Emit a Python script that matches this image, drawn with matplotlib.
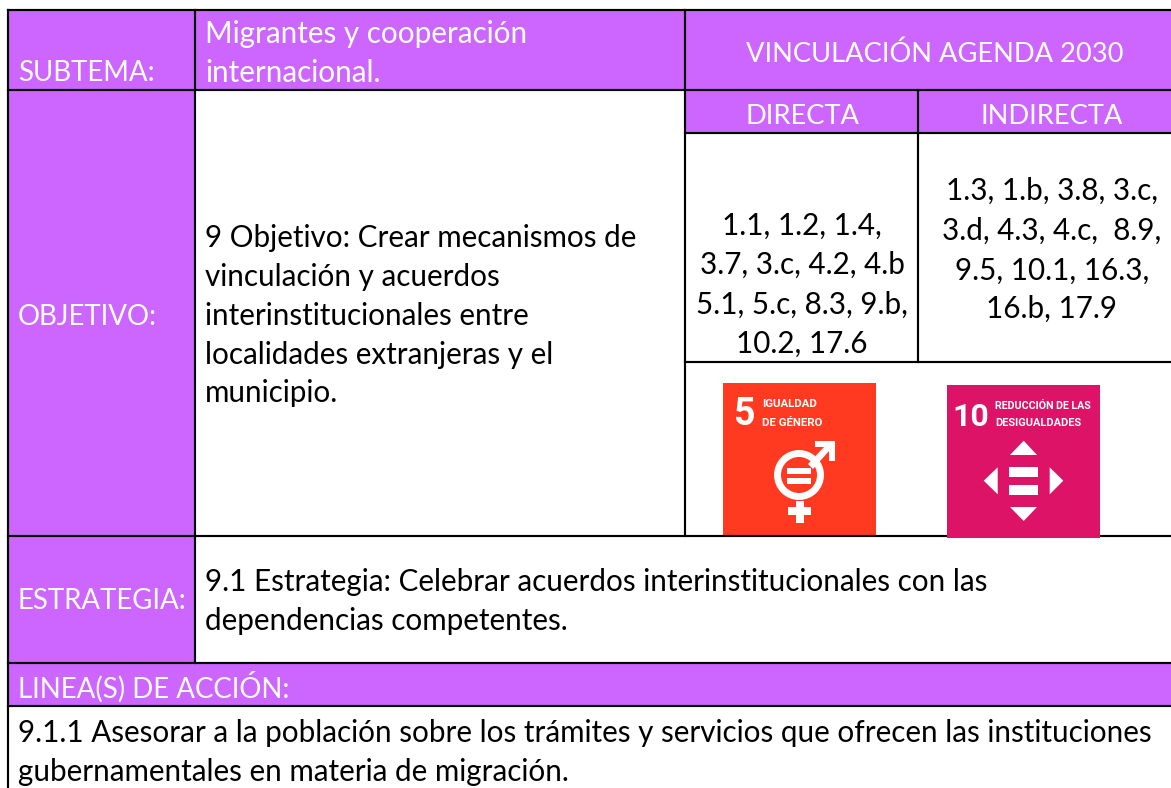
import matplotlib
matplotlib.use('Agg')
import matplotlib.pyplot as plt
from matplotlib.patches import Rectangle, Circle, Polygon

# Textos de la tabla
etiquetas = ['SUBTEMA:', 'OBJETIVO:', 'ESTRATEGIA:', 'LINEA(S) DE ACCIÓN:']
subtema = ['Migrantes y cooperación', 'internacional.']
vinculacion = 'VINCULACIÓN AGENDA 2030'
columnas = ['DIRECTA', 'INDIRECTA']
objetivo = ['9 Objetivo: Crear mecanismos de', 'vinculación y acuerdos',
            'interinstitucionales entre', 'localidades extranjeras y el', 'municipio.']
directa = ['1.1, 1.2, 1.4,', '3.7, 3.c, 4.2, 4.b', '5.1, 5.c, 8.3, 9.b,', '10.2, 17.6']
indirecta = ['1.3, 1.b, 3.8, 3.c,', '3.d, 4.3, 4.c,  8.9,', '9.5, 10.1, 16.3,', '16.b, 17.9']
estrategia = ['9.1 Estrategia: Celebrar acuerdos interinstitucionales con las',
              'dependencias competentes.']
linea = ['9.1.1 Asesorar a la población sobre los trámites y servicios que ofrecen las instituciones',
         'gubernamentales en materia de migración.']

MORADO = '#CC66FF'
ROJO = '#FF3A21'
ROSA = '#DD1367'
FS_ETI = 19.9
FS_CAB = 19.6
FS = 21.3

plt.rcParams['font.family'] = ['Lato', 'DejaVu Sans']

fig = plt.figure(figsize=(11.71, 7.88), dpi=100)
ax = fig.add_axes([0, 0, 1, 1])
ax.set_xlim(0, 1171)
ax.set_ylim(788, 0)
ax.axis('off')


def caja(x0, y0, x1, y1, color, z=1):
    ax.add_patch(Rectangle((x0, y0), x1 - x0, y1 - y0, fc=color, ec='none', zorder=z))


def linea_h(y, x0, x1):
    ax.plot([x0, x1], [y, y], color='black', lw=1.55, zorder=3, solid_capstyle='projecting')


def linea_v(x, y0, y1):
    ax.plot([x, x], [y0, y1], color='black', lw=1.55, zorder=3, solid_capstyle='projecting')


def escribe(x, ys, textos, color='black', ha='left', fs=FS):
    for y, t in zip(ys, textos):
        ax.text(x, y, t, color=color, fontsize=fs, ha=ha, va='baseline', zorder=4)


# Fondos
caja(8, 10, 1171, 90, MORADO)
caja(8, 90, 195, 663, MORADO)
caja(685, 90, 1171, 133, MORADO)
caja(8, 663, 1171, 706, MORADO)

# Iconos ODS
caja(723, 383, 876, 535, ROJO)
caja(947, 385, 1100, 538, ROSA, z=4)
for p in [Rectangle((787, 468), 24, 6), Rectangle((787, 478), 24, 5.5),
          Rectangle((796, 501), 7.5, 22), Rectangle((788, 507), 23, 8),
          Polygon([(815, 441), (835, 441), (835, 461), (829, 461), (829, 451),
                   (813, 469), (808, 464), (824, 447), (815, 447)])]:
    p.set(fc='white', ec='none', zorder=5)
    ax.add_patch(p)
ax.add_patch(Circle((799, 475), 21.5, fc='none', ec='white', lw=5, zorder=5))
for p in [Polygon([(1010, 455), (1037, 455), (1023.7, 440.7)]),
          Polygon([(1010, 507), (1037, 507), (1023.7, 521)]),
          Polygon([(983.7, 480.7), (997.7, 467.3), (997.7, 494.3)]),
          Polygon([(1063.3, 480.7), (1049.7, 467.3), (1049.7, 494.3)]),
          Rectangle((1009, 467), 29, 10), Rectangle((1009, 485), 29, 10)]:
    p.set(fc='white', ec='none', zorder=5)
    ax.add_patch(p)
for x, y, t, fs in [(733, 425, '5', 27), (762, 407, 'IGUALDAD', 8.2), (762, 426, 'DE GÉNERO', 8.2),
                    (952, 426, '10', 23), (995, 409, 'REDUCCIÓN DE LAS', 7.7), (995, 426, 'DESIGUALDADES', 7.9)]:
    ax.text(x, y, t, color='white', fontsize=fs, fontweight='bold', family='Roboto',
            ha='left', va='baseline', zorder=6)

# Reticula
linea_h(10, 8, 1171)
linea_h(89.5, 8, 1171)
linea_h(133, 685, 1171)
linea_h(362, 685, 1171)
linea_h(536, 8, 1171)
linea_h(663, 8, 1171)
linea_h(706, 8, 1171)
linea_v(8, 10, 788)
linea_v(195, 10, 663)
linea_v(685, 10, 536)
linea_v(918, 90, 362)

# Textos
escribe(18, [81, 325, 609, 698], etiquetas, 'white', fs=FS_ETI)
escribe(205, [43, 82], subtema, 'white')
escribe(935, [62], [vinculacion], 'white', 'center', FS_CAB)
escribe(802, [124], columnas[:1], 'white', 'center', FS_CAB)
escribe(1052, [124], columnas[1:], 'white', 'center', FS_CAB)
escribe(205, [247, 286, 325, 364, 402], objetivo)
escribe(802, [235, 274, 314, 353], directa, ha='center')
escribe(1052, [200, 240, 280, 318], indirecta, ha='center')
escribe(205, [591, 630], estrategia)
escribe(18, [742, 781], linea)

fig.savefig('out.png', dpi=100)
